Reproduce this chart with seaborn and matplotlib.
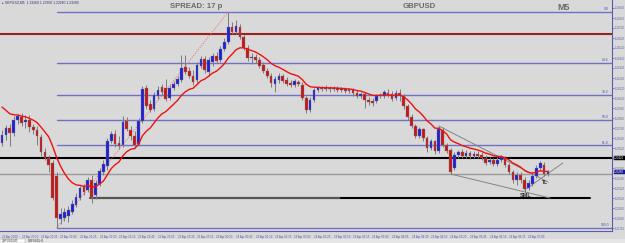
import numpy as np
import pandas as pd
import matplotlib
matplotlib.use("Agg")
import matplotlib.pyplot as plt
import matplotlib.transforms as mtransforms
import seaborn as sns

# ---------------- data (GBPUSD M5) ----------------
opens = [1.2357, 1.2365, 1.2372, 1.2367, 1.2380, 1.2383, 1.2378, 1.2380, 1.2373, 1.2370,
         1.2363, 1.2348, 1.2342, 1.2337, 1.2324, 1.2281, 1.2282, 1.2284, 1.2288, 1.2295,
         1.2302, 1.2313, 1.2310, 1.2320, 1.2305, 1.2316, 1.2328, 1.2334, 1.2359, 1.2366,
         1.2357, 1.2355, 1.2379, 1.2370, 1.2364, 1.2356, 1.2379, 1.2412, 1.2396, 1.2391,
         1.2404, 1.2413, 1.2412, 1.2402, 1.2412, 1.2416, 1.2420, 1.2433, 1.2429, 1.2424,
         1.2420, 1.2434, 1.2441, 1.2428, 1.2438, 1.2444, 1.2440, 1.2451, 1.2458, 1.2473,
         1.2468, 1.2473, 1.2463, 1.2452, 1.2442, 1.2443, 1.2440, 1.2435, 1.2429, 1.2424,
         1.2416, 1.2420, 1.2424, 1.2420, 1.2417, 1.2415, 1.2418, 1.2415, 1.2402, 1.2390,
         1.2400, 1.2410, 1.2412, 1.2411, 1.2412, 1.2411, 1.2412, 1.2410, 1.2411, 1.2409,
         1.2410, 1.2407, 1.2404, 1.2406, 1.2400, 1.2399, 1.2399, 1.2404, 1.2404, 1.2407,
         1.2406, 1.2402, 1.2407, 1.2404, 1.2394, 1.2383, 1.2374, 1.2364, 1.2371, 1.2362,
         1.2352, 1.2359, 1.2349, 1.2370, 1.2355, 1.2350, 1.2332, 1.2345, 1.2348, 1.2344,
         1.2347, 1.2344, 1.2346, 1.2345, 1.2342, 1.2338, 1.2340, 1.2336, 1.2340, 1.2342,
         1.2335, 1.2328, 1.2320, 1.2325, 1.2320, 1.2312, 1.2316, 1.2324, 1.2332, 1.2335,
         1.2326]
highs = [1.2370, 1.2375, 1.2376, 1.2384, 1.2386, 1.2387, 1.2385, 1.2385, 1.2376, 1.2374,
         1.2366, 1.2352, 1.2345, 1.2340, 1.2328, 1.2292, 1.2292, 1.2294, 1.2300, 1.2307,
         1.2314, 1.2316, 1.2323, 1.2325, 1.2320, 1.2332, 1.2340, 1.2362, 1.2369, 1.2370,
         1.2364, 1.2384, 1.2383, 1.2374, 1.2369, 1.2382, 1.2414, 1.2415, 1.2400, 1.2408,
         1.2414, 1.2416, 1.2421, 1.2415, 1.2419, 1.2424, 1.2445, 1.2445, 1.2433, 1.2430,
         1.2438, 1.2444, 1.2444, 1.2443, 1.2447, 1.2448, 1.2454, 1.2462, 1.2488, 1.2478,
         1.2480, 1.2476, 1.2465, 1.2455, 1.2447, 1.2446, 1.2443, 1.2438, 1.2432, 1.2427,
         1.2424, 1.2427, 1.2426, 1.2423, 1.2420, 1.2421, 1.2420, 1.2418, 1.2404, 1.2403,
         1.2412, 1.2414, 1.2414, 1.2415, 1.2414, 1.2414, 1.2414, 1.2413, 1.2413, 1.2412,
         1.2412, 1.2410, 1.2408, 1.2408, 1.2403, 1.2402, 1.2406, 1.2407, 1.2410, 1.2411,
         1.2409, 1.2410, 1.2411, 1.2406, 1.2396, 1.2386, 1.2376, 1.2373, 1.2372, 1.2364,
         1.2361, 1.2360, 1.2374, 1.2373, 1.2357, 1.2352, 1.2348, 1.2350, 1.2351, 1.2350,
         1.2349, 1.2349, 1.2349, 1.2348, 1.2345, 1.2343, 1.2342, 1.2343, 1.2345, 1.2344,
         1.2337, 1.2330, 1.2328, 1.2328, 1.2323, 1.2320, 1.2327, 1.2335, 1.2339, 1.2338,
         1.2330]
lows = [1.2354, 1.2360, 1.2354, 1.2364, 1.2376, 1.2374, 1.2372, 1.2368, 1.2366, 1.2355,
        1.2344, 1.2340, 1.2328, 1.2300, 1.2272, 1.2276, 1.2279, 1.2278, 1.2286, 1.2293,
        1.2300, 1.2305, 1.2308, 1.2297, 1.2301, 1.2314, 1.2325, 1.2330, 1.2357, 1.2353,
        1.2351, 1.2353, 1.2369, 1.2360, 1.2352, 1.2354, 1.2377, 1.2391, 1.2388, 1.2389,
        1.2401, 1.2405, 1.2399, 1.2400, 1.2410, 1.2414, 1.2418, 1.2426, 1.2422, 1.2415,
        1.2417, 1.2432, 1.2427, 1.2424, 1.2434, 1.2437, 1.2438, 1.2449, 1.2456, 1.2466,
        1.2466, 1.2461, 1.2450, 1.2439, 1.2436, 1.2437, 1.2432, 1.2427, 1.2422, 1.2413,
        1.2408, 1.2417, 1.2417, 1.2414, 1.2413, 1.2413, 1.2414, 1.2400, 1.2387, 1.2388,
        1.2398, 1.2408, 1.2409, 1.2409, 1.2408, 1.2409, 1.2408, 1.2408, 1.2407, 1.2407,
        1.2404, 1.2402, 1.2402, 1.2392, 1.2395, 1.2394, 1.2397, 1.2402, 1.2402, 1.2403,
        1.2399, 1.2400, 1.2399, 1.2391, 1.2380, 1.2372, 1.2362, 1.2362, 1.2359, 1.2348,
        1.2350, 1.2346, 1.2347, 1.2353, 1.2347, 1.2326, 1.2330, 1.2342, 1.2342, 1.2342,
        1.2341, 1.2342, 1.2342, 1.2340, 1.2335, 1.2336, 1.2334, 1.2334, 1.2338, 1.2333,
        1.2326, 1.2317, 1.2315, 1.2317, 1.2308, 1.2310, 1.2314, 1.2322, 1.2330, 1.2324,
        1.2324]
closes = [1.2365, 1.2372, 1.2367, 1.2380, 1.2384, 1.2377, 1.2380, 1.2373, 1.2370, 1.2364,
          1.2348, 1.2342, 1.2335, 1.2302, 1.2282, 1.2286, 1.2288, 1.2290, 1.2296, 1.2303,
          1.2312, 1.2308, 1.2320, 1.2303, 1.2317, 1.2329, 1.2336, 1.2359, 1.2366, 1.2356,
          1.2354, 1.2378, 1.2371, 1.2364, 1.2355, 1.2379, 1.2411, 1.2394, 1.2390, 1.2405,
          1.2410, 1.2408, 1.2401, 1.2412, 1.2416, 1.2421, 1.2432, 1.2428, 1.2424, 1.2418,
          1.2435, 1.2441, 1.2430, 1.2440, 1.2444, 1.2439, 1.2451, 1.2458, 1.2473, 1.2468,
          1.2474, 1.2463, 1.2452, 1.2442, 1.2443, 1.2440, 1.2434, 1.2429, 1.2424, 1.2417,
          1.2421, 1.2424, 1.2419, 1.2416, 1.2415, 1.2419, 1.2416, 1.2402, 1.2390, 1.2400,
          1.2410, 1.2412, 1.2411, 1.2412, 1.2411, 1.2412, 1.2410, 1.2411, 1.2409, 1.2410,
          1.2407, 1.2404, 1.2406, 1.2400, 1.2398, 1.2397, 1.2404, 1.2405, 1.2408, 1.2405,
          1.2401, 1.2407, 1.2405, 1.2394, 1.2383, 1.2374, 1.2364, 1.2371, 1.2362, 1.2352,
          1.2359, 1.2349, 1.2371, 1.2355, 1.2349, 1.2328, 1.2345, 1.2348, 1.2344, 1.2347,
          1.2344, 1.2346, 1.2344, 1.2342, 1.2337, 1.2340, 1.2336, 1.2340, 1.2343, 1.2335,
          1.2328, 1.2320, 1.2325, 1.2320, 1.2311, 1.2317, 1.2324, 1.2332, 1.2337, 1.2326,
          1.2328]

ma_span = 12
ma_seed = 1.2398

level_darkred = 1.2466
level_black = 1.2342
level_gray = 1.2326
level_black_low = 1.2302
level_black_low_start_bar = 22.6
level_black_low_end_bar = 150.8

fib_low_bar = 14
fib_high_bar = 58
fib_ratios = [0.0, 0.236, 0.382, 0.5, 0.618, 1.0]
fib_labels = ["0.0", "23.6", "38.2", "50.0", "61.8", "100.0"]

trend_upper_bars = [112, 140]
trend_upper_prices = [1.2374, 1.2318]
trend_lower_bars = [115, 140.5]
trend_lower_prices = [1.2326, 1.2302]
trend_tl_bars = [134, 143.8]
trend_tl_prices = [1.2310, 1.2337]

price_ticks = [1.2492, 1.2482, 1.2472, 1.2462, 1.2452, 1.2442, 1.2432, 1.2422, 1.2412,
               1.2402, 1.2392, 1.2382, 1.2372, 1.2362, 1.2352, 1.2342, 1.2332, 1.2322,
               1.2312, 1.2302, 1.2292, 1.2282, 1.2272]

time_tick_bars = list(range(0, 140, 5))
time_labels = ["23 Apr 2020", "23 Apr 20:10", "23 Apr 20:35", "23 Apr 21:00", "23 Apr 21:25",
               "23 Apr 21:50", "23 Apr 22:15", "23 Apr 22:40", "23 Apr 23:05", "23 Apr 23:30",
               "23 Apr 23:55", "24 Apr 00:20", "24 Apr 00:45", "24 Apr 01:10", "24 Apr 01:35",
               "24 Apr 02:00", "24 Apr 02:25", "24 Apr 02:50", "24 Apr 03:15", "24 Apr 03:40",
               "24 Apr 04:05", "24 Apr 04:30", "24 Apr 04:55", "24 Apr 05:20", "24 Apr 05:45",
               "24 Apr 06:10", "24 Apr 06:35", "24 Apr 07:00"]

symbol = "GBPUSD"
timeframe = "M5"
spread_text = "SPREAD: 17 p"

# ---------------- style ----------------
sns.set_style("white")
plt.rcParams['font.family'] = ['Liberation Sans', 'DejaVu Sans']

BG = "#d9d9d9"
BULL = "#1f1fd6"
BEAR = "#c41818"
WICK = "#7c7c7c"
FIB = "#7070c4"
AXC = "#5a5ab0"

W, H = 625, 243
fig = plt.figure(figsize=(W / 100, H / 100), dpi=100)
fig.patch.set_facecolor(BG)
ax = fig.add_axes([0, 1 - 231 / H, 612 / W, 231 / H])
ax.set_facecolor(BG)

n = len(closes)
idx = np.arange(n)
o = np.array(opens); h = np.array(highs); l = np.array(lows); c = np.array(closes)

# x: pixel = 2 + 3.9*i ; y: 1 px = 1 pip
ax.set_xlim(-2 / 3.9, 610 / 3.9)
ax.set_ylim(1.2500 - 0.0231, 1.2500)

# horizontal levels
ax.axhline(level_darkred, color="#9e1f1f", lw=1.5, zorder=1)
ax.axhline(level_black, color="black", lw=1.5, zorder=1)
ax.axhline(level_gray, color="#9a9a9a", lw=1.0, zorder=1)
mid_bar = 87
ax.plot([level_black_low_start_bar, mid_bar], [level_black_low] * 2, color="#555555", lw=1.6, zorder=1)
ax.plot([mid_bar, level_black_low_end_bar], [level_black_low] * 2, color="black", lw=1.5, zorder=1)

# fibonacci retracement
fib_hi = highs[fib_high_bar]
fib_lo = lows[fib_low_bar]
xr = 610 / 3.9
for r, lab in zip(fib_ratios, fib_labels):
    lvl = fib_hi - r * (fib_hi - fib_lo)
    ax.plot([fib_low_bar, xr], [lvl, lvl], color=FIB, lw=1.0, zorder=1)
    ax.text(155.6, lvl + 0.00008, lab, fontsize=2.4, color="#5050a0", ha="right", va="bottom")
ax.plot([fib_low_bar, fib_high_bar], [fib_lo, fib_hi], color="#f07070", lw=0.6,
        ls=(0, (1.5, 1.5)), zorder=2)

# candles
bull = c >= o
ax.vlines(idx, l, h, color=WICK, lw=0.7, zorder=3)
body_lo = np.minimum(o, c)
body_h = np.maximum(np.abs(c - o), 0.00005)
ax.bar(idx, body_h, bottom=body_lo, width=0.7,
       color=np.where(bull, BULL, BEAR), edgecolor=WICK, lw=0.25, zorder=4)

# moving average (EMA)
ma = pd.Series([ma_seed] + closes).ewm(span=ma_span, adjust=False).mean().to_numpy()[1:]
sns.lineplot(x=idx, y=ma, ax=ax, color="#ee1111", lw=1.0, zorder=5)

# trendlines
for bx, py in [(trend_upper_bars, trend_upper_prices),
               (trend_lower_bars, trend_lower_prices),
               (trend_tl_bars, trend_tl_prices)]:
    ax.plot(bx, py, color="#858585", lw=0.7, zorder=2)
ax.text(134.3, 1.2305, "SML", fontsize=4.0, fontweight="bold", color="#303030",
        ha="center", va="center", zorder=6)
ax.text(139.3, 1.2318, "TL", fontsize=3.6, fontweight="bold", color="#303030",
        ha="center", va="center", zorder=6)

# titles
ax.text(170 / 612, 1 - 6 / 231, spread_text, transform=ax.transAxes, fontsize=5.6,
        fontweight="bold", color="#6a6a6a", ha="left", va="center")
ax.text(403 / 612, 1 - 6 / 231, symbol, transform=ax.transAxes, fontsize=5.6,
        fontweight="bold", color="#6a6a6a", ha="left", va="center")
ax.text(557 / 612, 1 - 8 / 231, timeframe, transform=ax.transAxes, fontsize=6.5,
        fontweight="bold", color="#6a6a6a", ha="left", va="center")
ax.text(2 / 612, 1 - 2.5 / 231,
        "\u25b8 %s,%s  %.5f %.5f %.5f %.5f" % (symbol, timeframe, opens[-1], highs[-1], lows[-1], closes[-1]),
        transform=ax.transAxes, fontsize=2.4, color="#303070", ha="left", va="center")

# axes / ticks
for s in ["top", "left"]:
    ax.spines[s].set_visible(False)
for s in ["right", "bottom"]:
    ax.spines[s].set_color(AXC)
    ax.spines[s].set_linewidth(0.8)
ax.yaxis.tick_right()
ax.set_yticks(price_ticks)
ax.set_yticklabels(["%.5f" % p for p in price_ticks])
ax.tick_params(axis="y", labelsize=2.0, colors=AXC, length=1.2, width=0.5, pad=0.6)
ax.set_xticks(time_tick_bars)
ax.set_xticklabels(time_labels, ha="left")
ax.tick_params(axis="x", labelsize=2.1, colors=AXC, length=1.5, width=0.5, pad=1.2)
for t in ax.get_xticklabels():
    t.set_horizontalalignment("left")

# price boxes on the axis
trans = mtransforms.blended_transform_factory(ax.transAxes, ax.transData)
ax.text(1.0035, level_black, "%.5f" % level_black, transform=trans, fontsize=2.0, color="white",
        va="center", ha="left", bbox=dict(boxstyle="square,pad=0.15", fc="black", ec="black", lw=0.3),
        zorder=10, clip_on=False)
ax.text(1.0035, closes[-1], "%.5f" % closes[-1], transform=trans, fontsize=2.0, color="white",
        va="center", ha="left", bbox=dict(boxstyle="square,pad=0.15", fc="#1a1a8c", ec="#1a1a8c", lw=0.3),
        zorder=10, clip_on=False)

# bottom tab strip
fig.patches.append(plt.Rectangle((0, 0), 1, 4 / H, transform=fig.transFigure,
                                 fc="#e6e6e6", ec="none", zorder=0))
fig.patches.append(plt.Rectangle((0, 0), 25 / W, 4 / H, transform=fig.transFigure,
                                 fc="white", ec="#a0a0a0", lw=0.3, zorder=1))
fig.text(2 / W, 2 / H, "GBPUSD,M5", fontsize=2.0, color="#303030", va="center")
fig.text(28 / W, 2 / H, "GBPUSD,H1", fontsize=2.0, color="#303030", va="center")

fig.savefig("out.png", dpi=100, facecolor=BG)
